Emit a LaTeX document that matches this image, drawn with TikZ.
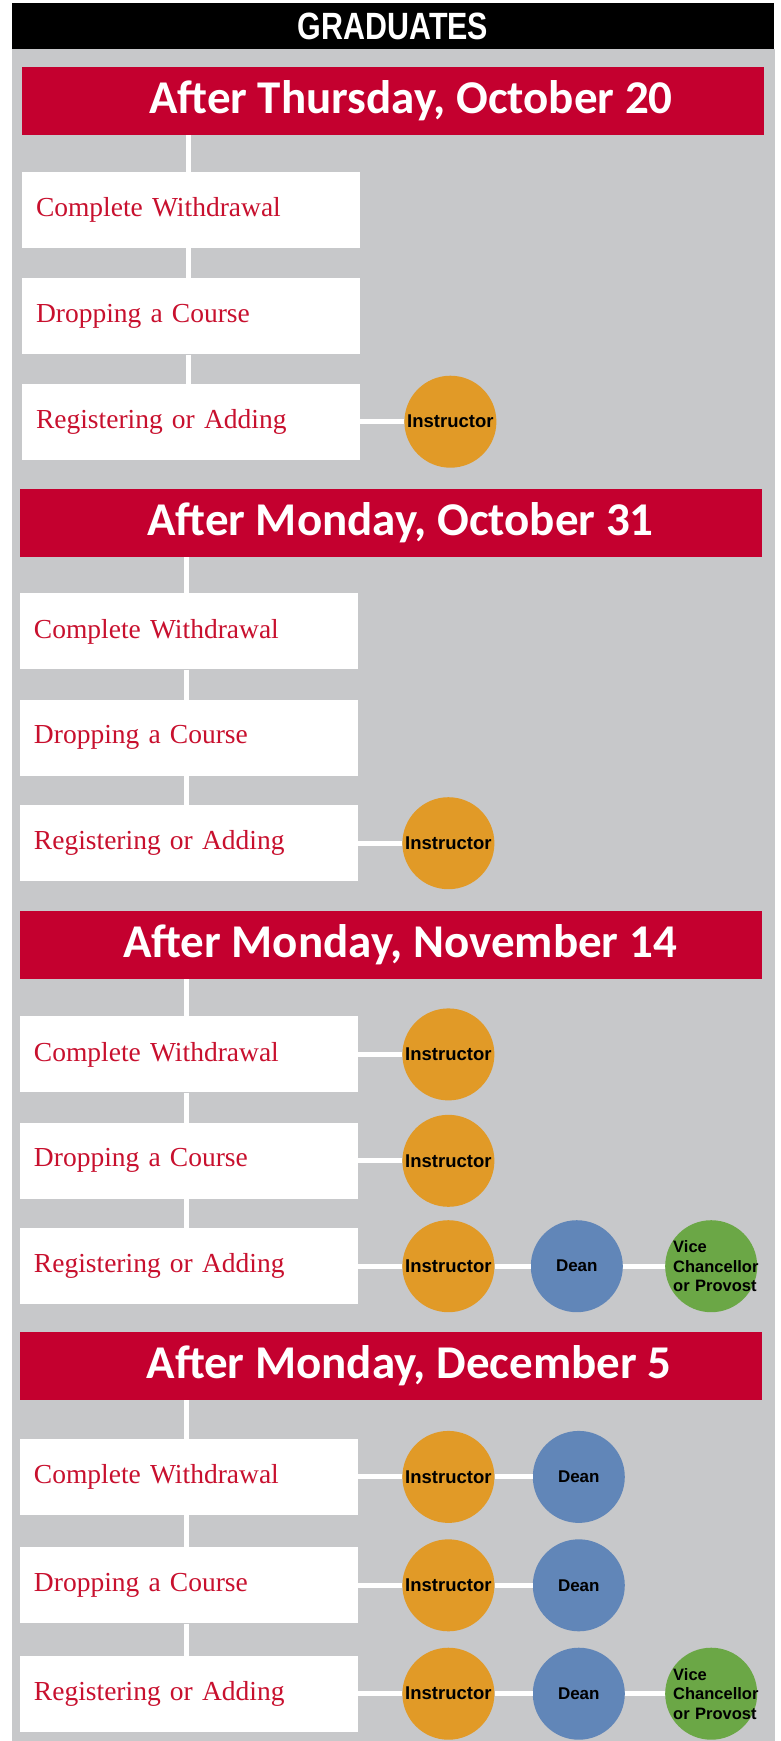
\documentclass[tikz,border=0pt]{standalone}
\usepackage{fontspec}
\setmainfont{Liberation Serif}
\newfontfamily\calfont{Carlito}
\newfontfamily\arialfont{Liberation Sans}
\newfontfamily\narrowfont[FakeStretch=0.8]{Liberation Sans}
\usetikzlibrary{positioning}

\definecolor{bannerred}{HTML}{C4002F}
\definecolor{txtred}{HTML}{C8102E}
\definecolor{bggray}{HTML}{C7C8CA}
\definecolor{instorange}{HTML}{E19A27}
\definecolor{deanblue}{HTML}{6186B8}
\definecolor{vpgreen}{HTML}{6BA746}

\begin{document}
\begin{tikzpicture}[x=1pt,y=-1pt,
  header/.style={rectangle,fill=black,text=white,minimum width=762pt,minimum height=46pt,inner sep=0pt,font=\narrowfont\bfseries\fontsize{38}{40}\selectfont},
  datebar/.style={rectangle,fill=bannerred,text=white,minimum width=742pt,minimum height=68pt,inner sep=0pt,font=\calfont\bfseries\fontsize{47}{50}\selectfont},
  actbox/.style={rectangle,fill=white,text=txtred,minimum height=76pt,inner xsep=14pt,text width=310pt,align=left,font=\fontsize{27.5}{32}\selectfont},
  role/.style={circle,fill=#1,text=black,minimum size=92pt,inner sep=0pt,font=\arialfont\bfseries\fontsize{18.5}{21}\selectfont},
  dean/.style={role=deanblue,font=\arialfont\bfseries\fontsize{17}{20}\selectfont},
  vp/.style={role=vpgreen,text width=76pt,align=left,inner sep=-4pt,font=\arialfont\bfseries\fontsize{16.5}{19.5}\selectfont},
  link/.style={draw=white,line width=5pt},
]
\useasboundingbox (0,0) rectangle (780,1741);

% === HEADER ===
\fill[bggray] (12,49) rectangle (775,1741);
\node[header] (grad) at (393,26) {GRADUATES};

% === AFTER OCTOBER 20 ===
\node[datebar] (thu20) at (393,100.5) {\hspace*{36pt}After Thursday, October 20};
\node[actbox,below right=37pt and 0pt of thu20.south west] (wd20) {Complete Withdrawal};
\node[actbox,below=30pt of wd20] (dc20) {Dropping a Course};
\node[actbox,below=29pt of dc20] (ra20) {Registering or Adding};
\node[role=instorange,right=44pt of ra20] (ins20ra) {Instructor};

\draw[link] ([xshift=-3pt]wd20.north) -- ([xshift=-3pt]wd20.north |- thu20.south);
\draw[link] ([xshift=-3pt]wd20.south) -- ([xshift=-3pt]dc20.north);
\draw[link] ([xshift=-3pt]dc20.south) -- ([xshift=-3pt]ra20.north);
\draw[link] (ra20) -- (ins20ra);

% === AFTER OCTOBER 31 ===
\node[datebar] (mon31) at (391,523) {\hspace*{19pt}After Monday, October 31};
\node[actbox,below right=36pt and 0pt of mon31.south west] (wd31) {Complete Withdrawal};
\node[actbox,below=30pt of wd31] (dc31) {Dropping a Course};
\node[actbox,below=29pt of dc31] (ra31) {Registering or Adding};
\node[role=instorange,right=44pt of ra31] (ins31ra) {Instructor};

\draw[link] ([xshift=-3pt]wd31.north) -- ([xshift=-3pt]wd31.north |- mon31.south);
\draw[link] ([xshift=-3pt]wd31.south) -- ([xshift=-3pt]dc31.north);
\draw[link] ([xshift=-3pt]dc31.south) -- ([xshift=-3pt]ra31.north);
\draw[link] (ra31) -- (ins31ra);

% === AFTER NOVEMBER 14 ===
\node[datebar] (nov14) at (391,945) {\hspace*{18pt}After Monday, November 14};
\node[actbox,below right=37pt and 0pt of nov14.south west] (wd14) {Complete Withdrawal};
\node[actbox,below=30pt of wd14] (dc14) {Dropping a Course};
\node[actbox,below=29pt of dc14] (ra14) {Registering or Adding};
\node[role=instorange,right=44pt of wd14] (ins14wd) {Instructor};
\node[role=instorange,right=44pt of dc14] (ins14dc) {Instructor};
\node[role=instorange,right=44pt of ra14] (ins14ra) {Instructor};
\node[dean,right=36pt of ins14ra] (dean14ra) {Dean};
\node[vp,right=42pt of dean14ra] (vp14ra) {Vice\\Chancellor\\or~Provost};

\draw[link] ([xshift=-3pt]wd14.north) -- ([xshift=-3pt]wd14.north |- nov14.south);
\draw[link] ([xshift=-3pt]wd14.south) -- ([xshift=-3pt]dc14.north);
\draw[link] ([xshift=-3pt]dc14.south) -- ([xshift=-3pt]ra14.north);
\draw[link] (wd14) -- (ins14wd);
\draw[link] (dc14) -- (ins14dc);
\draw[link] (ra14) -- (ins14ra);
\draw[link] (ins14ra) -- (dean14ra);
\draw[link] (dean14ra) -- (vp14ra);

% === AFTER DECEMBER 5 ===
\node[datebar] (dec5) at (391,1365.5) {\hspace*{36pt}After Monday, December 5};
\node[actbox,below right=39pt and 0pt of dec5.south west] (wd5) {Complete Withdrawal};
\node[actbox,below=32pt of wd5] (dc5) {Dropping a Course};
\node[actbox,below=32pt of dc5] (ra5) {Registering or Adding};
\node[role=instorange,right=44pt of wd5] (ins5wd) {Instructor};
\node[role=instorange,right=44pt of dc5] (ins5dc) {Instructor};
\node[role=instorange,right=44pt of ra5] (ins5ra) {Instructor};
\node[dean,right=38pt of ins5wd] (dean5wd) {Dean};
\node[dean,right=38pt of ins5dc] (dean5dc) {Dean};
\node[dean,right=38pt of ins5ra] (dean5ra) {Dean};
\node[vp,right=40pt of dean5ra] (vp5ra) {Vice\\Chancellor\\or~Provost};

\draw[link] ([xshift=-3pt]wd5.north) -- ([xshift=-3pt]wd5.north |- dec5.south);
\draw[link] ([xshift=-3pt]wd5.south) -- ([xshift=-3pt]dc5.north);
\draw[link] ([xshift=-3pt]dc5.south) -- ([xshift=-3pt]ra5.north);
\draw[link] (wd5) -- (ins5wd);
\draw[link] (dc5) -- (ins5dc);
\draw[link] (ra5) -- (ins5ra);
\draw[link] (ins5wd) -- (dean5wd);
\draw[link] (ins5dc) -- (dean5dc);
\draw[link] (ins5ra) -- (dean5ra);
\draw[link] (dean5ra) -- (vp5ra);

\end{tikzpicture}
\end{document}
